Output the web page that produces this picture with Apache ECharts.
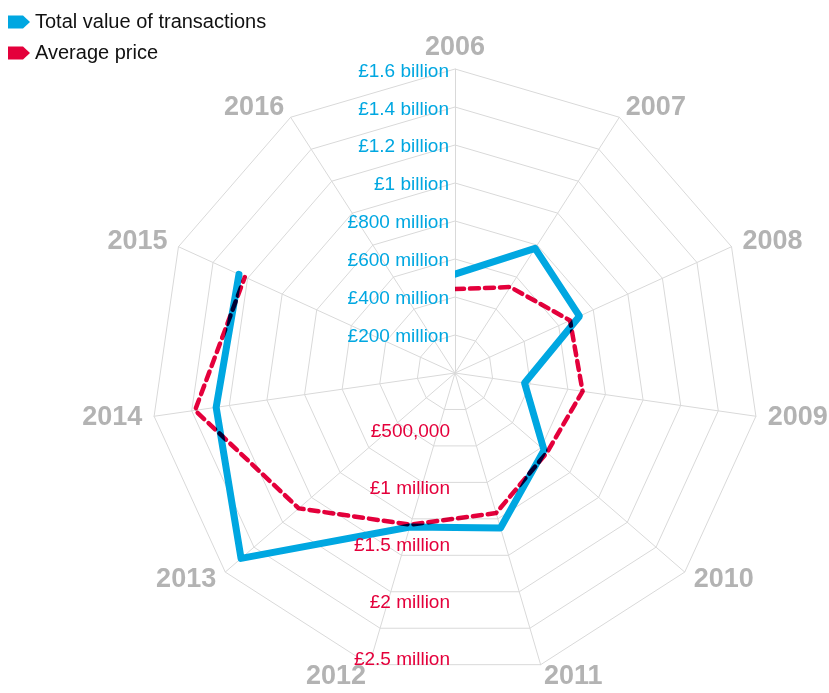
<!DOCTYPE html>
<html>
<head>
<meta charset="utf-8">
<script src="https://cdn.jsdelivr.net/npm/echarts@6/dist/echarts.min.js"></script>
<style>
  html, body { margin: 0; padding: 0; background: #fff; }
  #chart { width: 829px; height: 693px; }
</style>
</head>
<body>
<div id="chart"></div>
<script>
// data
const years = ['2006', '2007', '2008', '2009', '2010', '2011', '2012', '2013', '2014', '2015', '2016'];
// total value of transactions, £ million (no 2016 value)
const totalValue = [520, 780, 720, 370, 620, 850, 845, 1490, 1270, 1250, '-'];
// average price, £ million (no 2016 value)
const averagePrice = [0.69, 0.84, 1.04, 1.06, 1.0, 1.2, 1.3, 1.7, 2.16, 1.9, '-'];

const valueTicks = [0, 200, 400, 600, 800, 1000, 1200, 1400, 1600];
const valueTickLabels = ['', '£200 million', '£400 million', '£600 million', '£800 million',
  '£1 billion', '£1.2 billion', '£1.4 billion', '£1.6 billion'];
const priceTicks = [0, 0.5, 1, 1.5, 2, 2.5];
const priceTickLabels = ['', '£500,000', '£1 million', '£1.5 million', '£2 million', '£2.5 million'];

const BLUE = '#00a7e1';
const RED = '#e4003b';
const GREY = '#b3b3b3';
const FONT = 'Liberation Sans';

const cx = 455, cy = 373, R = 304;

// radar goes anticlockwise, so feed it the years reversed after the first
const radarOrder = [years[0]].concat(years.slice(1).reverse());

const chart = echarts.init(document.getElementById('chart'));

chart.setOption({
    animation: false,
    legend: {
        orient: 'vertical',
        left: 3,
        top: 7,
        itemWidth: 22,
        itemHeight: 13,
        itemGap: 11,
        icon: 'path://M0,0H15L22,6.5L15,13H0Z',
        itemStyle: { borderWidth: 0 },
        textStyle: { fontSize: 20, color: '#111', fontFamily: FONT },
        data: ['Total value of transactions', 'Average price']
    },
    radar: {
        center: [cx, cy],
        radius: R,
        startAngle: 90,
        splitNumber: 8,
        shape: 'polygon',
        nameGap: 12,
        indicator: radarOrder.map(y => ({ name: y, min: 0, max: valueTicks[valueTicks.length - 1] })),
        axisName: { color: GREY, fontSize: 27, lineHeight: 18, fontWeight: 'bold', fontFamily: FONT },
        axisLine: { lineStyle: { color: '#d9d9d9', width: 1 } },
        splitLine: { lineStyle: { color: '#d9d9d9', width: 1 } },
        splitArea: { show: false }
    },
    polar: [
        { center: [cx, cy], radius: R },
        { center: [cx, cy], radius: R }
    ],
    angleAxis: [0, 1].map(i => ({
        polarIndex: i, type: 'category', data: years, boundaryGap: false,
        startAngle: 90, clockwise: true, show: false
    })),
    radiusAxis: [
        { polarIndex: 0, type: 'value', min: 0, max: valueTicks[valueTicks.length - 1], show: false },
        { polarIndex: 1, type: 'value', min: 0, max: priceTicks[priceTicks.length - 1], show: false }
    ],
    // two vertical scales carrying the ring labels
    grid: [
        { left: cx, top: 71.5, width: 1, height: 303 },
        { left: cx, top: 374.5, width: 1, height: 285.5 }
    ],
    xAxis: [
        { gridIndex: 0, type: 'value', show: false },
        { gridIndex: 1, type: 'value', show: false }
    ],
    yAxis: [
        {
            gridIndex: 0, type: 'value', min: 0, max: 1600, interval: 200, z: 5,
            axisLine: { show: false }, axisTick: { show: false }, splitLine: { show: false },
            axisLabel: {
                margin: 6, fontSize: 19, color: BLUE, fontFamily: FONT,
                formatter: v => valueTickLabels[valueTicks.indexOf(v)] || ''
            }
        },
        {
            gridIndex: 1, type: 'value', min: 0, max: 2.5, interval: 0.5, inverse: true, z: 5,
            axisLine: { show: false }, axisTick: { show: false }, splitLine: { show: false },
            axisLabel: {
                margin: 5, fontSize: 19, color: RED, fontFamily: FONT,
                formatter: v => priceTickLabels[priceTicks.findIndex(t => Math.abs(t - v) < 1e-9)] || ''
            }
        }
    ],
    series: [
        {
            name: 'Total value of transactions',
            type: 'line',
            coordinateSystem: 'polar',
            polarIndex: 0,
            data: totalValue,
            symbol: 'none',
            itemStyle: { color: BLUE },
            lineStyle: { color: BLUE, width: 7, cap: 'round', join: 'round' }
        },
        {
            name: 'Average price',
            type: 'line',
            coordinateSystem: 'polar',
            polarIndex: 1,
            data: averagePrice,
            symbol: 'none',
            blendMode: 'multiply',
            itemStyle: { color: RED },
            lineStyle: { color: RED, width: 4.5, type: [9, 6], cap: 'round', join: 'round' }
        }
    ]
});
</script>
</body>
</html>
